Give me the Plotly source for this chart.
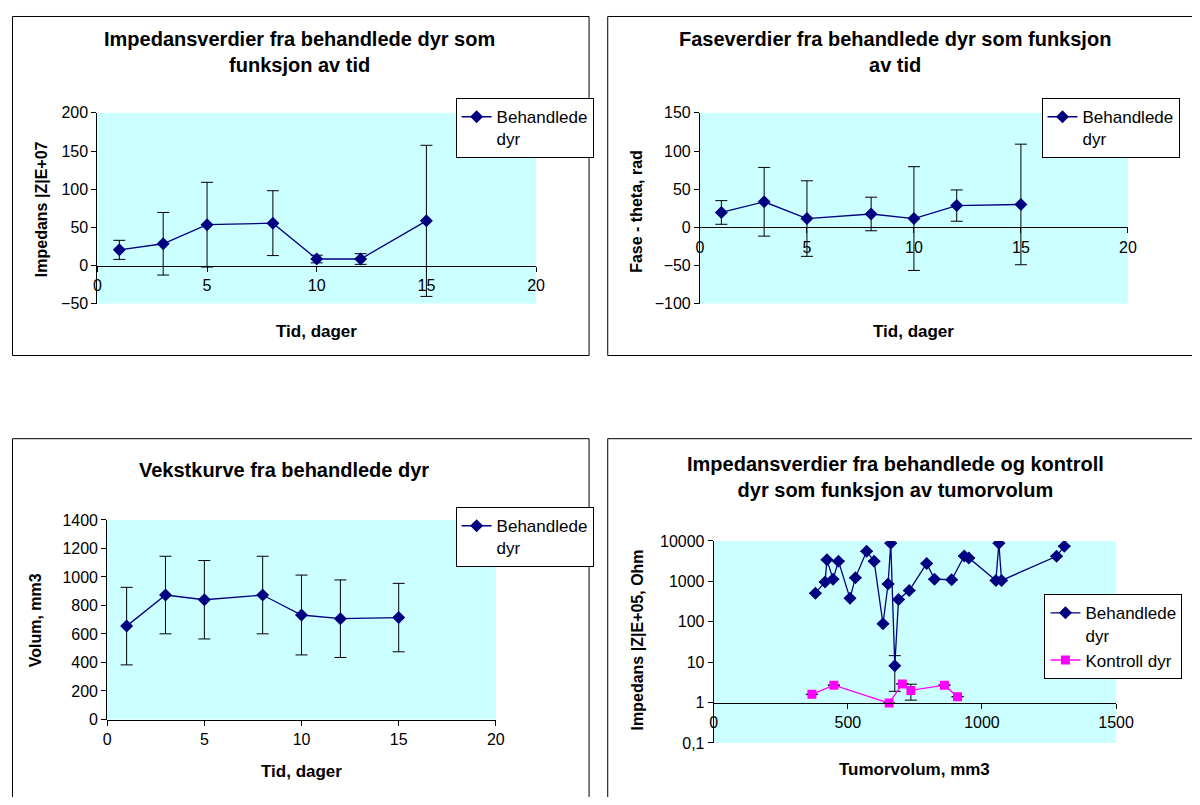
import plotly.graph_objects as go

# page is 1200x805; the default body margin (8px) surrounds the figure
OFF = 8
W, H = 1200 - 2 * OFF, 805 - 2 * OFF

# ---------------- data ----------------
days = [1, 3, 5, 8, 10, 12, 15]
impedance = [20.5, 28.5, 53.5, 55.5, 8.5, 8.5, 58.5]
impedance_err = [12.5, 41, 55.5, 42.5, 5, 7, 99]
phase = [19.5, 33.5, 11.5, 17.5, 11.5, 28.5, 30]
phase_err = [15.5, 45, 49.5, 22, 68, 20.5, 79]
volume = [655, 873, 840, 873, 733, 707, 715]
volume_err = [272, 272, 275, 272, 280, 272, 240]

tumor_vol_treated = [379, 415, 422, 445, 465, 508, 528, 570, 598, 631, 650, 660, 675,
                     689, 729, 794, 823, 887, 934, 951, 1052, 1063, 1073, 1278, 1307]
imp_treated = [510, 960, 3400, 1135, 3160, 380, 1220, 5520, 3160, 89, 860, 8780, 8.2,
               358, 591, 2770, 1135, 1095, 4250, 3800, 1055, 8780, 1055, 4170, 7420]
imp_treated_err = [0, 0, 0, 0, 0, 0, 0, 0, 0, 0, 0, 0, 6.3,
                   0, 0, 0, 0, 0, 0, 0, 0, 0, 0, 0, 0]
tumor_vol_control = [366, 448, 654, 703, 735, 860, 909]
imp_control = [1.6, 2.7, 0.97, 2.9, 2.0, 2.7, 1.4]
imp_control_err = [0, 0, 0, 0, 0.85, 0, 0]

day_ticks = [0, 5, 10, 15, 20]
vol_ticks = [0, 500, 1000, 1500]
log_tickvals = [0.1, 1, 10, 100, 1000, 10000]
log_ticktext = ["0,1", "1", "10", "100", "1000", "10000"]

titles = [
    "Impedansverdier fra behandlede dyr som<br>funksjon av tid",
    "Faseverdier fra behandlede dyr som funksjon<br>av tid",
    "Vekstkurve fra behandlede dyr",
    "Impedansverdier fra behandlede og kontroll<br>dyr som funksjon av tumorvolum",
]
x_titles = ["Tid, dager", "Tid, dager", "Tid, dager", "Tumorvolum, mm3"]
y_titles = ["Impedans |Z|E+07", "Fase - theta, rad", "Volum, mm3", "Impedans |Z|E+05, Ohm"]
name_treated = "Behandlede<br>dyr"
name_control = "Kontroll dyr"

# ---------------- styling helpers ----------------
FONT = "Liberation Sans, Arial, sans-serif"
NAVY = "#000080"
PINK = "#FF00FF"
BG = "#CCFFFF"


def px(x):
    return (x - OFF) / W


def py(y):
    return 1 - (y - OFF) / H


def dx(p0, p1):
    return [px(p0), px(p1)]


def dy(top, bot):
    return [py(bot), py(top)]


fig = go.Figure()

err_style = dict(type="data", color="black", thickness=1, width=6, visible=True)


def treated_trace(x, y, err, xa, ya, leg):
    return go.Scatter(
        x=x, y=y, mode="lines+markers", name=name_treated,
        line=dict(color=NAVY, width=1.3),
        marker=dict(symbol="diamond", size=10, color=NAVY),
        error_y=dict(array=err, **err_style),
        xaxis=xa, yaxis=ya, legend=leg,
    )


fig.add_trace(treated_trace(days, impedance, impedance_err, "x", "y", "legend"))
fig.add_trace(treated_trace(days, phase, phase_err, "x2", "y2", "legend2"))
fig.add_trace(treated_trace(days, volume, volume_err, "x3", "y3", "legend3"))
fig.add_trace(treated_trace(tumor_vol_treated, imp_treated, imp_treated_err, "x4", "y4", "legend4"))
fig.add_trace(go.Scatter(
    x=tumor_vol_control, y=imp_control, mode="lines+markers", name=name_control,
    line=dict(color=PINK, width=1.3),
    marker=dict(symbol="square", size=9, color=PINK),
    error_y=dict(array=imp_control_err, **err_style),
    xaxis="x4", yaxis="y4", legend="legend4",
))

tick_font = dict(family=FONT, size=16, color="black")
axis_common = dict(showgrid=False, zeroline=False, showline=True, linecolor="black",
                   linewidth=1, ticks="outside", ticklen=5, tickcolor="black",
                   tickfont=tick_font)

panels = [
    dict(xd=(95, 542), yd=(107, 302), xr=[0, 20], yr=[-50, 200], ydt=50, cross=0, log=False),
    dict(xd=(709, 1145), yd=(107, 302), xr=[0, 20], yr=[-100, 150], ydt=50, cross=0, log=False),
    dict(xd=(105, 501), yd=(523, 727), xr=[0, 20], yr=[0, 1400], ydt=200, cross=0, log=False),
    dict(xd=(723, 1133), yd=(544.5, 751), xr=[0, 1500], yr=[-1, 4], ydt=None, cross=0, log=True),
]

layout_axes = {}
for i, p in enumerate(panels):
    sfx = "" if i == 0 else str(i + 1)
    ydom = dy(*p["yd"])
    frac = (p["cross"] - p["yr"][0]) / (p["yr"][1] - p["yr"][0])
    pos = ydom[0] + frac * (ydom[1] - ydom[0])
    xa = dict(domain=dx(*p["xd"]), range=p["xr"], anchor="free", position=pos,
              tickvals=vol_ticks if p["log"] else day_ticks, **axis_common)
    ya = dict(domain=ydom, range=p["yr"], anchor="x" + sfx, **axis_common)
    if p["log"]:
        ya.update(type="log", tickvals=log_tickvals, ticktext=log_ticktext)
    else:
        ya.update(dtick=p["ydt"], tick0=0)
    layout_axes["xaxis" + sfx] = xa
    layout_axes["yaxis" + sfx] = ya

fig.update_layout(**layout_axes)

leg_common = dict(xanchor="left", yanchor="top", bgcolor="white", bordercolor="black",
                  borderwidth=1, font=dict(family=FONT, size=17, color="black"),
                  valign="top", tracegroupgap=0, itemwidth=30)
fig.update_layout(
    legend=dict(x=px(460), y=py(92), **leg_common),
    legend2=dict(x=px(1057), y=py(92), **leg_common),
    legend3=dict(x=px(460), y=py(510), **leg_common),
    legend4=dict(x=px(1060), y=py(599), **leg_common),
)

# panel frames (page pixel coords); edges outside the figure run off the page
frames = [(8.5, 8.5, 596, 355), (615, 8.5, 1230, 355), (8.5, 440, 596, 830), (615, 440, 1230, 830)]
shapes = []
for (x0, y0, x1, y1) in frames:
    shapes.append(dict(type="rect", xref="paper", yref="paper", x0=px(x0), x1=px(x1),
                       y0=py(y1), y1=py(y0), line=dict(color="black", width=1),
                       fillcolor="rgba(0,0,0,0)", layer="below"))

annotations = []
title_pos = [(301, 44.5), (908, 44.5), (285, 472), (908, 479)]
xt_pos = [(318, 330), (927, 330), (303, 780), (928, 778)]
yt_pos = [(38, 205), (645, 208), (32, 626), (645, 646)]
for i in range(4):
    annotations.append(dict(text="<b>" + titles[i] + "</b>", x=px(title_pos[i][0]), y=py(title_pos[i][1]),
                            xref="paper", yref="paper", showarrow=False, xanchor="center", yanchor="middle",
                            font=dict(family=FONT, size=20, color="black")))
    annotations.append(dict(text="<b>" + x_titles[i] + "</b>", x=px(xt_pos[i][0]), y=py(xt_pos[i][1]),
                            xref="paper", yref="paper", showarrow=False, xanchor="center", yanchor="middle",
                            font=dict(family=FONT, size=17, color="black")))
    annotations.append(dict(text="<b>" + y_titles[i] + "</b>", x=px(yt_pos[i][0]), y=py(yt_pos[i][1]),
                            xref="paper", yref="paper", showarrow=False, xanchor="center", yanchor="middle",
                            textangle=-90, font=dict(family=FONT, size=16, color="black")))

fig.update_layout(
    width=W, height=H, margin=dict(l=0, r=0, t=0, b=0),
    paper_bgcolor="white", plot_bgcolor=BG,
    font=dict(family=FONT, color="black"),
    shapes=shapes, annotations=annotations, showlegend=True,
)

fig.write_html("out.html", config={"displayModeBar": False})
